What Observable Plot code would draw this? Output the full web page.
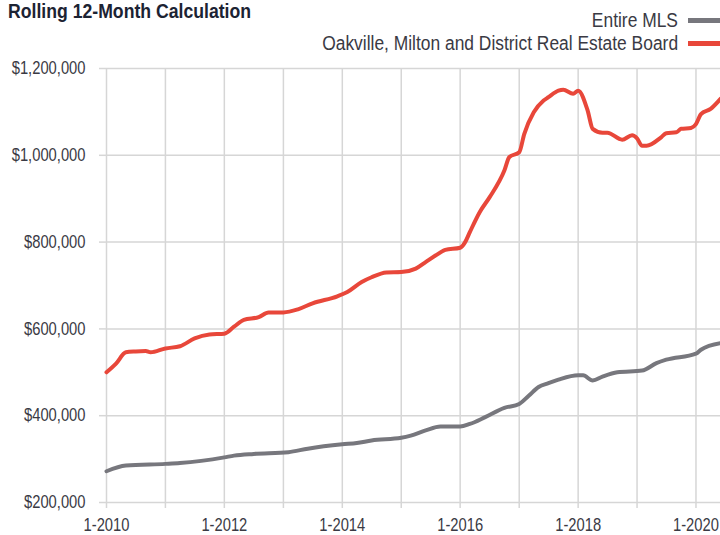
<!DOCTYPE html>
<html>
<head>
<meta charset="utf-8">
<script src="https://cdn.jsdelivr.net/npm/d3@7"></script>
<script src="https://cdn.jsdelivr.net/npm/@observablehq/plot@0.6"></script>
<style>
  body { margin: 0; background: #fff; }
  #wrap { position: relative; width: 720px; height: 535px; overflow: hidden;
          font-family: "Liberation Sans", Arial, sans-serif; }
  #head { position: relative; height: 56px; }
  #title { position: absolute; left: 8px; top: -1px; font-size: 21px; font-weight: bold; color: #1c2333;
           white-space: nowrap; transform: scaleX(0.84); transform-origin: 0 50%; }
  .leg { position: absolute; right: 0; display: flex; align-items: center; font-size: 20px; line-height: 22px; color: #3a3a44; white-space: nowrap; }
  .legtxt { display: inline-block; transform: scaleX(0.87); transform-origin: 100% 50%; }
  .sw { display: inline-block; width: 32px; height: 5px; margin-left: 10px; }
</style>
</head>
<body>
<div id="wrap">
  <div id="head">
    <div id="title">Rolling 12-Month Calculation</div>
    <div id="legend"></div>
  </div>
  <div id="chart"></div>
</div>
<script>
// ---- Data (values in thousands of dollars) ----
const seriesNames = ["Entire MLS", "Oakville, Milton and District Real Estate Board"];
const seriesColors = ["#77777d", "#e8473a"];

const mlsDates = ["2010-01","2010-05","2011-01","2011-04","2012-01","2012-03","2012-07","2013-02","2013-06",
  "2014-01","2014-04","2014-07","2015-01","2015-03","2015-06","2015-09","2016-01","2016-03","2016-06","2016-10",
  "2017-01","2017-03","2017-05","2017-07","2017-09","2018-01","2018-02","2018-04","2018-06","2018-09",
  "2019-02","2019-05","2019-07","2020-01","2020-02","2020-06"];
const mlsValues = [272,285,289,291,304,308,312,316,324,
  334,337,343,349,354,366,375,375,381,396,418,
  427,446,466,475,483,493,493,481,490,500,
  504,521,529,543,552,567];

const omdDates = ["2010-01","2010-03","2010-05","2010-07","2010-09","2010-10","2011-01","2011-04","2011-07","2011-10",
  "2012-01","2012-03","2012-05","2012-08","2012-10","2013-01","2013-04","2013-07","2013-12",
  "2014-02","2014-05","2014-07","2014-10","2015-01","2015-04","2015-06","2015-08","2015-10",
  "2016-01","2016-02","2016-03","2016-05","2016-07","2016-10","2016-11",
  "2017-01","2017-02","2017-04","2017-06","2017-07","2017-09","2017-10","2017-12",
  "2018-01","2018-03","2018-04","2018-06","2018-07","2018-10","2018-12",
  "2019-01","2019-02","2019-03","2019-06","2019-07","2019-09","2019-10","2019-12",
  "2020-01","2020-02","2020-04","2020-06"];
const omdValues = [500,520,546,548,549,546,555,560,578,587,
  589,605,621,627,638,638,645,659,675,
  685,708,719,730,731,739,754,769,782,
  787,800,823,869,903,965,996,
  1007,1049,1099,1126,1134,1149,1151,1142,
  1149,1103,1061,1052,1052,1036,1046,
  1039,1022,1022,1042,1051,1053,1061,1063,
  1072,1095,1107,1130];

const yTickValues = [200000, 400000, 600000, 800000, 1000000, 1200000];
const xTickYears = [2010,2011,2012,2013,2014,2015,2016,2017,2018,2019,2020];
const xLabelYears = [2010,2012,2014,2016,2018,2020];

// ---- Build table ----
const parse = s => new Date(s + "-01T00:00:00Z");
const rows = [
  ...mlsDates.map((d, i) => ({date: parse(d), value: mlsValues[i] * 1000, series: seriesNames[0]})),
  ...omdDates.map((d, i) => ({date: parse(d), value: omdValues[i] * 1000, series: seriesNames[1]}))
];
const xTicks = xTickYears.map(y => new Date(Date.UTC(y, 0, 1)));

// ---- Legend ----
const legend = document.getElementById("legend");
seriesNames.forEach((name, i) => {
  const row = document.createElement("div");
  row.className = "leg";
  row.style.top = (9 + i * 23) + "px";
  const t = document.createElement("span");
  t.className = "legtxt";
  t.textContent = name;
  const sw = document.createElement("span");
  sw.className = "sw";
  sw.style.background = seriesColors[i];
  row.append(t, sw);
  legend.append(row);
});

// ---- Chart ----
const gridColor = "#d6d6d6";
const chart = Plot.plot({
  width: 720,
  height: 479,
  marginTop: 12,
  marginLeft: 106,
  marginRight: 0,
  marginBottom: 33,
  style: {
    fontFamily: '"Liberation Sans", Arial, sans-serif',
    fontSize: "18px",
    color: "#3a3a44",
    background: "transparent",
    overflow: "visible"
  },
  x: {type: "utc", domain: [new Date(Date.UTC(2010, 0, 1)), new Date(Date.UTC(2020, 5, 1))]},
  y: {domain: [200000, 1200000]},
  color: {domain: seriesNames, range: seriesColors},
  marks: [
    Plot.gridX({ticks: xTicks, stroke: gridColor, strokeOpacity: 1, strokeWidth: 1.5}),
    Plot.gridY({ticks: yTickValues, stroke: gridColor, strokeOpacity: 1, strokeWidth: 1.5}),
    Plot.axisY({ticks: yTickValues, tickSize: 7, tickPadding: 14, stroke: gridColor, strokeWidth: 1.5,
      fill: "#3a3a44", tickFormat: d => "$" + d3.format(",")(d), label: null}),
    Plot.axisX({ticks: xTicks, tickSize: 6, tickPadding: 10, stroke: gridColor, strokeWidth: 1.5,
      fill: "#3a3a44", label: null,
      tickFormat: d => xLabelYears.includes(d.getUTCFullYear()) ? "1-" + d.getUTCFullYear() : ""}),
    Plot.line(rows, {x: "date", y: "value", z: "series", stroke: "series", strokeWidth: 4,
      strokeLinejoin: "round", strokeLinecap: "round", curve: "monotone-x"})
  ]
});
// Narrow the tick-label glyphs horizontally (condensed look), keeping anchors in place
chart.querySelectorAll("text").forEach(t => {
  const tr = t.getAttribute("transform") || "";
  t.setAttribute("transform", tr + " scale(0.82,1)");
});
document.getElementById("chart").append(chart);
</script>
</body>
</html>
